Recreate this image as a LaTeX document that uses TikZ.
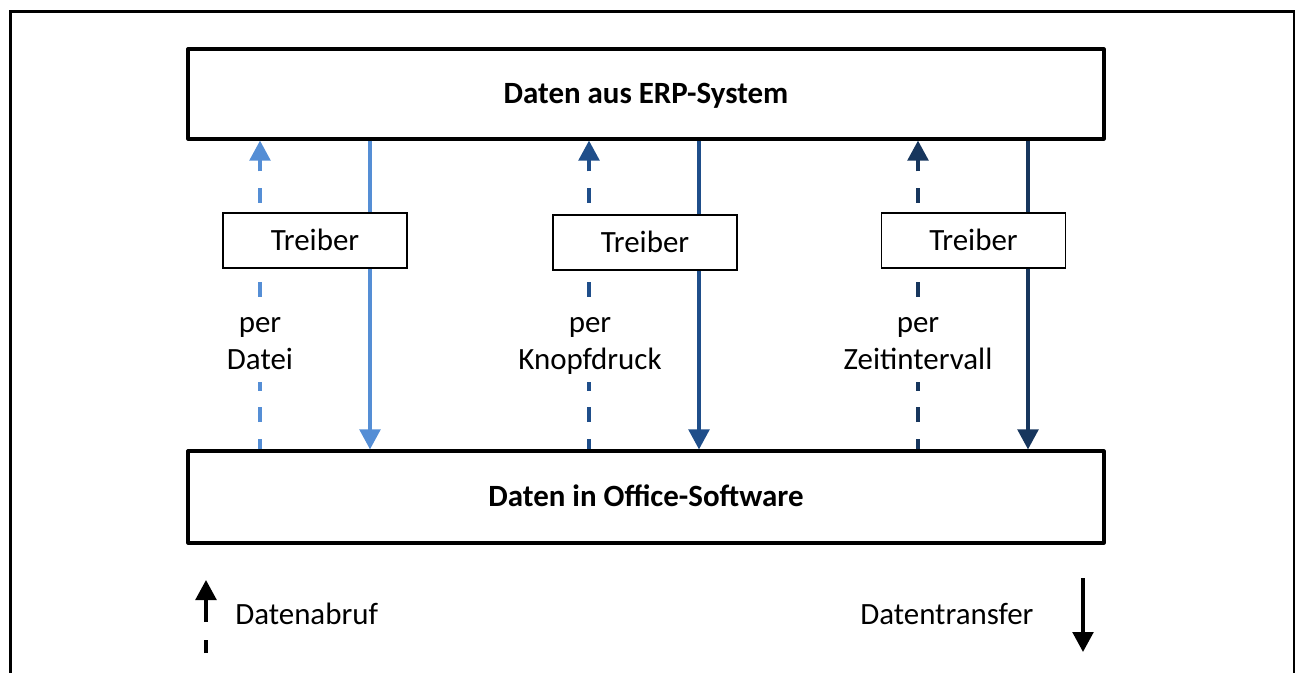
\documentclass[tikz,border=0pt]{standalone}
\usepackage{fontspec}
\setmainfont{Carlito}
\usetikzlibrary{arrows.meta}
\definecolor{cone}{HTML}{558ED5}
\definecolor{ctwo}{HTML}{1F4E8A}
\definecolor{cthree}{HTML}{17365D}
\begin{document}
\begin{tikzpicture}[x=0.75pt,y=-0.75pt,
  every node/.style={font=\fontsize{23.2pt}{27.75pt}\selectfont},
  bigbox/.style={draw, line width=2.4pt, line join=round, minimum width=687pt,
    text height=14.9pt, text depth=0pt,
    font=\bfseries\fontsize{23.2pt}{27.75pt}\selectfont},
  drvbox/.style={draw, line width=1.1pt, fill=white, minimum width=138pt,
    minimum height=41.25pt, inner sep=0pt, text height=14.9pt, text depth=0pt},
  lbl/.style={fill=white, align=center, inner xsep=2pt, inner ysep=1pt},
  tipstyle/.style={-{Triangle[length=15pt,width=15.5pt]}},
  pull/.style={line width=2.6pt, dash pattern=on 11pt off 12.5pt, dash phase=3pt, tipstyle},
  push/.style={line width=2.6pt, tipstyle},
]
\useasboundingbox (0,0) rectangle (1300,673);
\draw[line width=1.6pt] (10.5,690) -- (10.5,11.5) -- (1294,11.5) -- (1294,690);

\node[bigbox, minimum height=67.5pt] (erp) at (646,94) {Daten aus ERP-System};
\node[bigbox, minimum height=69pt] (office) at (646,497) {Daten in Office-Software};

\coordinate (a1) at (260,0); \coordinate (b1) at (370,0);
\coordinate (a2) at (589,0); \coordinate (b2) at (699,0);
\coordinate (a3) at (918,0); \coordinate (b3) at (1028,0);

\draw[pull, cone] (office.north -| a1) -- (erp.south -| a1);
\draw[push, cone] (erp.south -| b1) -- (office.north -| b1);
\draw[pull, ctwo] (office.north -| a2) -- (erp.south -| a2);
\draw[push, ctwo] (erp.south -| b2) -- (office.north -| b2);
\draw[pull, cthree] (office.north -| a3) -- (erp.south -| a3);
\draw[push, cthree] (erp.south -| b3) -- (office.north -| b3);

\node[drvbox] (t1) at (315,240.5) {Treiber};
\node[drvbox] (t2) at (645,242.5) {Treiber};
\node[drvbox] (t3) at (973.5,240.5) {Treiber};

\node[lbl] (l1) at (260,344) {\strut per\\\strut Datei};
\node[lbl] (l2) at (590,344) {\strut per\\\strut Knopfdruck};
\node[lbl] (l3) at (918,344) {\strut per\\\strut Zeitintervall};

\coordinate (u0) at (206,653); \coordinate (u1) at (206,580);
\draw[line width=2.6pt, dash pattern=on 9.75pt off 13.5pt on 100pt off 1pt, tipstyle] (u0) -- (u1);
\node[anchor=base west, inner sep=0pt] (leg1) at (235,624) {Datenabruf};

\coordinate (d0) at (1083,578); \coordinate (d1) at (1083,652);
\draw[push] (d0) -- (d1);
\node[anchor=base west, inner sep=0pt] (leg2) at (860,624) {Datentransfer};
\end{tikzpicture}
\end{document}
